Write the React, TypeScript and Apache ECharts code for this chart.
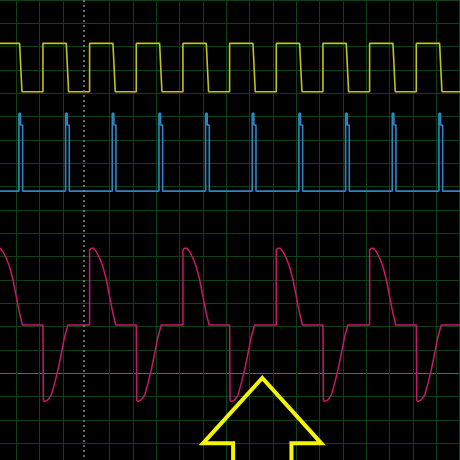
import { useEffect, useRef } from 'react'
import * as echarts from 'echarts'

// time axis in divisions (1 div = 1 grid square), vertical in divisions from the top
const yellowHigh = 1.86
const yellowLow = 3.93
const yellowFalls = [0.14, 2.14, 4.14, 6.14, 8.14, 10.14, 12.14, 14.14, 16.14, 18.14]
const yellowRises = [1.14, 3.14, 5.14, 7.14, 9.14, 11.14, 13.14, 15.14, 17.14]

const blueBase = 8.19
const blueTop = 4.86
const blueStep = 5.36
const blueSpikes = [0.14, 2.14, 4.14, 6.14, 8.14, 10.14, 12.14, 14.14, 16.14, 18.14]

const magentaFlat = 13.93
const magentaDrops = [-2.86, 1.14, 5.14, 9.14, 13.14, 17.14]
// one cycle of the magenta trace, offsets from the drop
const troughDx = [0, 0.02, 0.07, 0.21, 0.36, 0.5, 0.64, 0.79, 0.93, 1.07]
const troughY = [13.93, 17.15, 17.21, 17.14, 16.93, 16.43, 15.86, 15.14, 14.43, 13.93]
const peakDx = [2.0, 2.0, 2.07, 2.17, 2.29, 2.43, 2.57, 2.72, 2.86, 3.0, 3.12]
const peakY = [13.93, 10.71, 10.64, 10.64, 10.79, 11.07, 11.43, 12.0, 12.72, 13.43, 13.93]

const cursorX = 2.9
const brightLine = 16

const arrowX = [9.29, 9.29, 8.0, 10.54, 13.07, 11.79, 11.79]
const arrowY = [19.9, 19.0, 19.0, 16.2, 19.0, 19.0, 19.9]

function yellowData() {
  const pts: number[][] = [[-0.8, yellowHigh]]
  yellowFalls.forEach((t, i) => {
    pts.push([t, yellowHigh], [t + 0.1, yellowLow])
    const r = yellowRises[i]
    if (r !== undefined) pts.push([r, yellowLow], [r, yellowHigh])
  })
  pts.push([19.2, yellowLow])
  return pts
}

function blueData() {
  const pts: number[][] = [[-0.8, blueBase]]
  blueSpikes.forEach((t) => {
    pts.push(
      [t - 0.03, blueBase],
      [t - 0.03, blueTop],
      [t + 0.04, blueTop],
      [t + 0.04, blueStep],
      [t + 0.13, blueStep],
      [t + 0.13, blueBase],
    )
  })
  pts.push([19.2, blueBase])
  return pts
}

function magentaData() {
  const pts: number[][] = []
  magentaDrops.forEach((d) => {
    troughDx.forEach((dx, i) => pts.push([d + dx, troughY[i]]))
    peakDx.forEach((dx, i) => pts.push([d + dx, peakY[i]]))
  })
  pts.push([21.5, magentaFlat])
  return pts
}

// one division is 23.33px; the chart is 20 divisions square and starts
// 6.67px left of the window so the first grid line lands at x = 16.67
const DIV = 460 / 19.714
const SIZE = DIV * 20

export default function App() {
  const chartRef = useRef<HTMLDivElement>(null)

  useEffect(() => {
    if (!chartRef.current) return
    document.body.style.margin = '0'
    document.body.style.overflow = 'hidden'
    document.body.style.background = '#000'
    const chart = echarts.init(chartRef.current, null, { renderer: 'svg', width: SIZE, height: SIZE })

    const grid = '#0f4016'
    // x ticks run from -1 to 19, the line under the cursor (value 3) is hidden
    const xColors = Array.from({ length: 21 }, (_, i) => (i === 4 ? 'rgba(0,0,0,0)' : grid))
    const yColors = Array.from({ length: 21 }, (_, i) => (i === brightLine ? '#1f8c32' : grid))

    const hidden = {
      axisLine: { show: false },
      axisTick: { show: false },
      axisLabel: { show: false },
    }

    chart.setOption({
      animation: false,
      backgroundColor: '#000000',
      grid: { left: 0, right: 0, top: 0, bottom: 0 },
      xAxis: {
        type: 'value',
        min: -1,
        max: 19,
        interval: 1,
        ...hidden,
        splitLine: { show: true, lineStyle: { color: xColors, width: 1 } },
      },
      yAxis: {
        type: 'value',
        min: 0,
        max: 20,
        interval: 1,
        inverse: true,
        ...hidden,
        splitLine: { show: true, lineStyle: { color: yColors, width: 1 } },
      },
      series: [
        {
          type: 'line',
          data: [],
          silent: true,
          markLine: {
            silent: true,
            symbol: 'none',
            label: { show: false },
            lineStyle: { color: '#8a8a80', type: [2, 3], width: 1.5 },
            data: [{ xAxis: cursorX }],
          },
        },
        {
          type: 'line',
          data: yellowData(),
          showSymbol: false,
          lineStyle: { color: '#c2c21e', width: 1.6 },
        },
        {
          type: 'line',
          data: blueData(),
          showSymbol: false,
          lineStyle: { color: '#2f86c2', width: 1.6 },
        },
        {
          type: 'line',
          data: magentaData(),
          showSymbol: false,
          lineStyle: { color: '#c8186a', width: 1.5 },
        },
        {
          type: 'line',
          data: arrowX.map((x, i) => [x, arrowY[i]]),
          showSymbol: false,
          lineStyle: { color: '#f5f500', width: 4, join: 'miter' },
        },
      ],
    })

    return () => {
      chart.dispose()
    }
  }, [])

  return (
    <div
      ref={chartRef}
      style={{ position: 'absolute', left: `${16.67 - DIV}px`, top: 0, width: `${SIZE}px`, height: `${SIZE}px`, background: '#000' }}
    ></div>
  )
}
